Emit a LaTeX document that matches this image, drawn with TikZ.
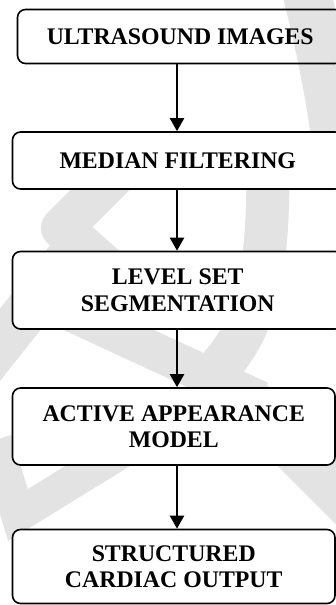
\documentclass[tikz,border=0pt]{standalone}
\usepackage{fontspec}
\setmainfont{Liberation Serif}
\usetikzlibrary{arrows.meta}
\begin{document}
\begin{tikzpicture}[x=1pt,y=-1pt,
  box/.style={draw, line width=1.6pt, rounded corners=8pt, fill=white, align=center, inner sep=0pt, font=\fontsize{23.8}{26.5}\selectfont\bfseries},
  flow/.style={line width=2.2pt, -{Triangle[length=13pt,width=14pt]}},
  wm/.style={draw=black!11, line cap=butt, line join=round}]
\useasboundingbox (0,0) rectangle (336,605);
\begin{scope}[wm]
 \draw[line width=48pt] (306,-10) .. controls (318,40) and (330,90) .. (338,160);
 \draw[line width=43pt] (268,170) .. controls (268,280) and (255,330) .. (215,372);
 \draw[line width=42pt] (125,165) -- (62,228) -- (115,275);
 \draw[line width=45pt] (75,250) -- (-20,370);
 \draw[line width=38pt] (70,312) -- (260,400);
 \draw[line width=34pt, line join=miter] (-5,440) -- (18,515) -- (140,440);
 \draw[line width=50pt] (250,403) -- (380,533);
\end{scope}
\node[box, fill=none, minimum width=325.5pt, minimum height=54pt] (b1) at (180.25,36.5) {ULTRASOUND IMAGES};
\node[box, minimum width=330.5pt, minimum height=57pt] (b2) at (177.75,160.5) {MEDIAN FILTERING};
\node[box, minimum width=330.5pt, minimum height=77.5pt] (b3) at (177.75,290.25) {LEVEL SET\\SEGMENTATION};
\node[box, minimum width=322.5pt, minimum height=77pt] (b4) at (173.75,426.5) {ACTIVE APPEARANCE\\MODEL};
\node[box, minimum width=322.5pt, minimum height=74pt] (b5) at (173.75,566.5) {STRUCTURED\\CARDIAC OUTPUT};
\coordinate (ax) at (177,0);
\draw[flow] (b1.south -| ax) -- (b2.north -| ax);
\draw[flow] (b2.south -| ax) -- (b3.north -| ax);
\draw[flow] (b3.south -| ax) -- (b4.north -| ax);
\draw[flow] (b4.south -| ax) -- (b5.north -| ax);
\end{tikzpicture}
\end{document}
